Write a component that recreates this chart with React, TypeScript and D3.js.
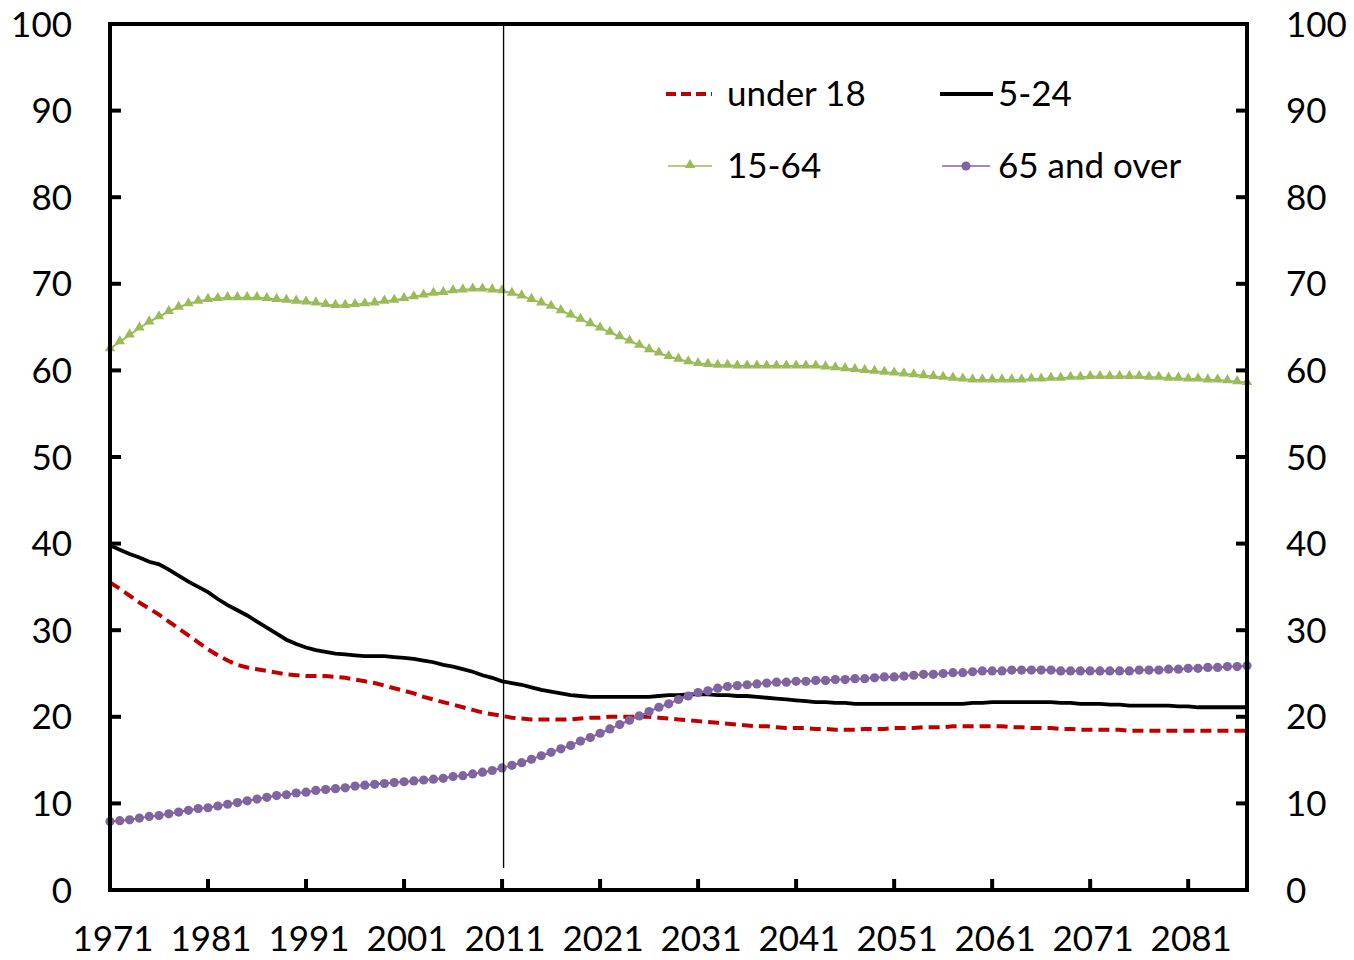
import React from "react";
import * as d3 from "d3";

const startYear = 1971;
const endYear = 2087;
const years: number[] = d3.range(startYear, endYear + 1);
const xTickYears = [1971, 1981, 1991, 2001, 2011, 2021, 2031, 2041, 2051, 2061, 2071, 2081];
const yTicks = [0, 10, 20, 30, 40, 50, 60, 70, 80, 90, 100];
const markerYear = 2011;

const under18 = [
  35.5, 34.8, 34.0, 33.2, 32.5, 31.8, 31.0, 30.2, 29.4, 28.6,
  27.8, 27.1, 26.5, 26.0, 25.7, 25.5, 25.3, 25.1, 24.9, 24.8,
  24.7, 24.7, 24.7, 24.6, 24.5, 24.3, 24.1, 23.9, 23.6, 23.3,
  23.0, 22.7, 22.3, 22.0, 21.7, 21.4, 21.1, 20.8, 20.5, 20.3,
  20.1, 19.9, 19.8, 19.7, 19.7, 19.7, 19.7, 19.7, 19.8, 19.9,
  19.9, 20.0, 20.0, 20.0, 20.0, 20.0, 19.9, 19.8, 19.7, 19.6,
  19.5, 19.4, 19.3, 19.2, 19.1, 19.0, 18.9, 18.9, 18.8, 18.7,
  18.7, 18.7, 18.6, 18.6, 18.5, 18.5, 18.5, 18.6, 18.6, 18.6,
  18.7, 18.7, 18.7, 18.8, 18.8, 18.8, 18.9, 18.9, 18.9, 18.9,
  18.9, 18.9, 18.8, 18.8, 18.7, 18.7, 18.7, 18.6, 18.6, 18.5,
  18.5, 18.5, 18.5, 18.5, 18.4, 18.4, 18.4, 18.4, 18.4, 18.4,
  18.4, 18.4, 18.4, 18.4, 18.4, 18.4, 18.4,
];

const age5to24 = [
  39.8, 39.3, 38.8, 38.4, 37.9, 37.6, 37.0, 36.3, 35.6, 35.0,
  34.4, 33.6, 32.9, 32.3, 31.7, 31.0, 30.3, 29.6, 28.9, 28.4,
  28.0, 27.7, 27.5, 27.3, 27.2, 27.1, 27.0, 27.0, 27.0, 26.9,
  26.8, 26.7, 26.5, 26.3, 26.0, 25.8, 25.5, 25.2, 24.8, 24.5,
  24.1, 23.9, 23.7, 23.4, 23.1, 22.9, 22.7, 22.5, 22.4, 22.3,
  22.3, 22.3, 22.3, 22.3, 22.3, 22.3, 22.4, 22.5, 22.5, 22.6,
  22.6, 22.6, 22.5, 22.5, 22.4, 22.4, 22.3, 22.2, 22.1, 22.0,
  21.9, 21.8, 21.7, 21.7, 21.6, 21.6, 21.5, 21.5, 21.5, 21.5,
  21.5, 21.5, 21.5, 21.5, 21.5, 21.5, 21.5, 21.5, 21.6, 21.6,
  21.7, 21.7, 21.7, 21.7, 21.7, 21.7, 21.7, 21.6, 21.6, 21.5,
  21.5, 21.5, 21.4, 21.4, 21.3, 21.3, 21.3, 21.3, 21.3, 21.2,
  21.2, 21.1, 21.1, 21.1, 21.1, 21.1, 21.1,
];

const age15to64 = [
  62.5, 63.3, 64.1, 64.9, 65.6, 66.2, 66.8, 67.3, 67.7, 68.0,
  68.2, 68.3, 68.4, 68.4, 68.4, 68.4, 68.3, 68.2, 68.1, 68.0,
  67.9, 67.8, 67.6, 67.5, 67.5, 67.6, 67.7, 67.8, 68.0, 68.1,
  68.3, 68.5, 68.7, 68.9, 69.0, 69.2, 69.3, 69.4, 69.4, 69.3,
  69.2, 68.9, 68.6, 68.2, 67.8, 67.4, 66.9, 66.4, 65.9, 65.4,
  64.9, 64.4, 63.9, 63.4, 62.9, 62.4, 62.0, 61.6, 61.3, 61.0,
  60.8, 60.7, 60.6, 60.6, 60.5, 60.5, 60.5, 60.5, 60.5, 60.5,
  60.5, 60.5, 60.5, 60.4, 60.3, 60.2, 60.1, 60.0, 59.9, 59.8,
  59.7, 59.6, 59.5, 59.4, 59.3, 59.2, 59.1, 59.0, 58.9, 58.9,
  58.9, 58.9, 58.9, 58.9, 59.0, 59.0, 59.1, 59.1, 59.2, 59.2,
  59.3, 59.3, 59.3, 59.3, 59.3, 59.3, 59.2, 59.2, 59.1, 59.1,
  59.0, 59.0, 58.9, 58.9, 58.8, 58.7, 58.6,
];

const age65plus = [
  7.9, 8.0, 8.1, 8.3, 8.5, 8.6, 8.8, 9.0, 9.2, 9.4,
  9.5, 9.7, 9.9, 10.1, 10.3, 10.5, 10.7, 10.9, 11.0, 11.2,
  11.3, 11.5, 11.6, 11.7, 11.8, 12.0, 12.1, 12.2, 12.3, 12.4,
  12.5, 12.6, 12.7, 12.8, 12.9, 13.1, 13.2, 13.4, 13.6, 13.8,
  14.1, 14.4, 14.7, 15.1, 15.5, 15.9, 16.3, 16.7, 17.2, 17.6,
  18.1, 18.6, 19.1, 19.6, 20.1, 20.6, 21.1, 21.5, 22.0, 22.4,
  22.8, 23.0, 23.3, 23.5, 23.6, 23.7, 23.8, 23.9, 24.0, 24.0,
  24.1, 24.1, 24.2, 24.2, 24.3, 24.3, 24.4, 24.4, 24.5, 24.6,
  24.6, 24.7, 24.8, 24.9, 24.9, 25.0, 25.1, 25.1, 25.2, 25.3,
  25.3, 25.3, 25.4, 25.4, 25.4, 25.4, 25.4, 25.3, 25.3, 25.3,
  25.3, 25.3, 25.3, 25.3, 25.3, 25.4, 25.4, 25.4, 25.5, 25.5,
  25.6, 25.6, 25.7, 25.7, 25.8, 25.8, 25.9,
];

const FONT = "Lato, 'Open Sans', sans-serif";
const FS = 35;
const RED = "#C00000";
const GREEN = "#9BBB59";
const PURPLE = "#8064A2";

export default function App() {
  const W = 1354;
  const H = 960;
  const left = 110;
  const right = 1247;
  const top = 24;
  const bottom = 890;

  const x = d3.scaleLinear().domain([startYear, endYear]).range([left, right]);
  const y = d3.scaleLinear().domain([0, 100]).range([bottom, top]);

  const line = d3
    .line<number>()
    .x((_, i) => x(years[i]))
    .y((d) => y(d));

  const tri = d3.symbol().type(d3.symbolTriangle).size(48)() as string;

  return (
    <svg width={W} height={H} style={{ display: "block", position: "absolute", left: 0, top: 0 }}>
      <rect width={W} height={H} fill="#fff" />
      {yTicks.map((t) => (
        <g key={"yt" + t}>
          <text x={72} y={y(t)} dy="0.36em" textAnchor="end" fontFamily={FONT} fontSize={FS} fill="#000">
            {t}
          </text>
          <text x={1286} y={y(t)} dy="0.36em" textAnchor="start" fontFamily={FONT} fontSize={FS} fill="#000">
            {t}
          </text>
          {t > 0 && t < 100 && (
            <>
              <line x1={left} x2={left + 11} y1={y(t)} y2={y(t)} stroke="#000" strokeWidth={4} />
              <line x1={right - 11} x2={right} y1={y(t)} y2={y(t)} stroke="#000" strokeWidth={4} />
            </>
          )}
        </g>
      ))}
      {xTickYears.map((yr) => (
        <g key={"xt" + yr}>
          {yr > startYear && (
            <line x1={x(yr)} x2={x(yr)} y1={bottom} y2={bottom - 11} stroke="#000" strokeWidth={4} />
          )}
          <text x={x(yr) + 3} y={951} textAnchor="middle" fontFamily={FONT} fontSize={FS} fill="#000">
            {yr}
          </text>
        </g>
      ))}

      <path d={line(under18) || ""} fill="none" stroke={RED} strokeWidth={4} strokeDasharray="11,6" />
      <path d={line(age5to24) || ""} fill="none" stroke="#000" strokeWidth={3.8} />
      <path d={line(age15to64) || ""} fill="none" stroke={GREEN} strokeWidth={2} />
      {age15to64.map((v, i) => (
        <path key={"g" + i} d={tri} transform={`translate(${x(years[i])},${y(v) - 0.5})`} fill={GREEN} />
      ))}
      <path d={line(age65plus) || ""} fill="none" stroke={PURPLE} strokeWidth={2} />
      {age65plus.map((v, i) => (
        <circle key={"p" + i} cx={x(years[i])} cy={y(v)} r={4.6} fill={PURPLE} />
      ))}

      <line x1={x(markerYear) + 1.5} x2={x(markerYear) + 1.5} y1={top} y2={868} stroke="#000" strokeWidth={1.3} />

      <rect x={left} y={top} width={right - left} height={bottom - top} fill="none" stroke="#000" strokeWidth={4} />

      <g>
        <line x1={666} x2={712} y1={94} y2={94} stroke={RED} strokeWidth={4} strokeDasharray="10,5" />
        <text x={727} y={93} dy="0.36em" fontFamily={FONT} fontSize={FS} fill="#000">under 18</text>
        <line x1={940} x2={993} y1={94} y2={94} stroke="#000" strokeWidth={3.8} />
        <text x={998} y={93} dy="0.36em" fontFamily={FONT} fontSize={FS} fill="#000">5-24</text>
        <line x1={668} x2={712} y1={166} y2={166} stroke={GREEN} strokeWidth={1.5} />
        <path d={tri} transform="translate(690,165)" fill={GREEN} />
        <text x={727} y={165} dy="0.36em" fontFamily={FONT} fontSize={FS} fill="#000">15-64</text>
        <line x1={942} x2={990} y1={166} y2={166} stroke={PURPLE} strokeWidth={1.5} />
        <circle cx={966} cy={166} r={4.6} fill={PURPLE} />
        <text x={998} y={165} dy="0.36em" fontFamily={FONT} fontSize={FS} fill="#000">65 and over</text>
      </g>
    </svg>
  );
}
